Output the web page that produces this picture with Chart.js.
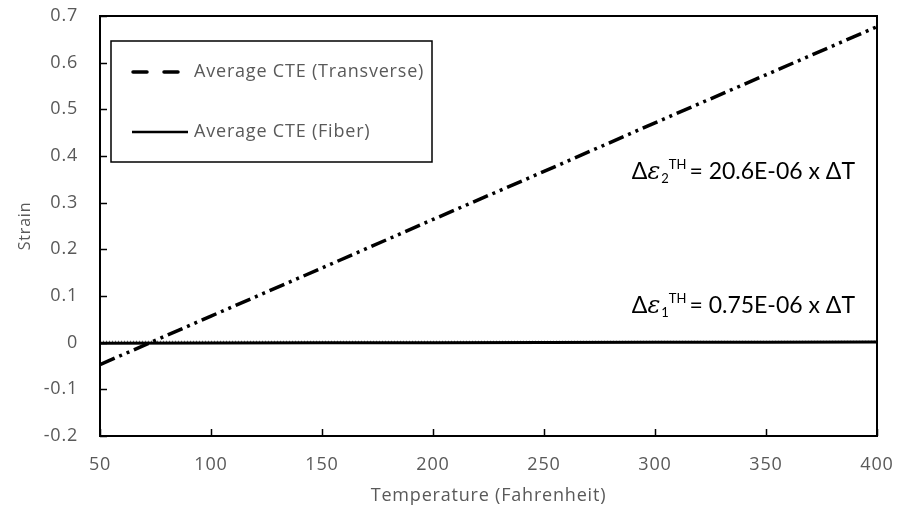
<!DOCTYPE html>
<html><head><meta charset="utf-8">
<script src="https://cdn.jsdelivr.net/npm/chart.js@4"></script>
<style>html,body{margin:0;padding:0;background:#fff}</style>
</head><body>
<canvas id="c" width="898" height="509" style="display:block;width:898px;height:509px"></canvas>
<script>
const temperatures = [50, 100, 150, 200, 250, 300, 350, 400];
const transverseStrain = [-0.047, 0.057, 0.160, 0.264, 0.367, 0.471, 0.574, 0.677];
const fiberStrain = [-0.001, -0.0007, -0.0003, 0.0, 0.0003, 0.0007, 0.001, 0.0014];
const zeroReference = [0.003, 0.003, 0.003, 0.003, 0.003, 0.003, 0.003, 0.003];
const seriesNames = ['Average CTE (Transverse)', 'Average CTE (Fiber)'];
const xTitle = 'Temperature (Fahrenheit)';
const yTitle = 'Strain';
const eqTransverse = {sub: '2', rest: '= 20.6E-06 x ΔT'};
const eqFiber = {sub: '1', rest: '= 0.75E-06 x ΔT'};

const grey = '#595959';
const FONT = '"Open Sans", Lato, sans-serif';
const EQFONT = 'Lato, "Open Sans", sans-serif';

const spacing = {
  id: 'spacing',
  beforeDraw(chart) { chart.ctx.letterSpacing = '0.8px'; },
  afterDraw(chart) { chart.ctx.letterSpacing = '0px'; }
};

const frameAndTicks = {
  id: 'frameAndTicks',
  afterDraw(chart) {
    const ctx = chart.ctx, a = chart.chartArea;
    const xs = chart.scales.x, ys = chart.scales.y;
    ctx.save();
    ctx.strokeStyle = '#000';
    ctx.lineWidth = 1.5;
    ys.ticks.forEach((t, i) => {
      const y = Math.round(ys.getPixelForTick(i)) + 0.5;
      ctx.beginPath(); ctx.moveTo(a.left, y); ctx.lineTo(a.left + 7, y); ctx.stroke();
    });
    xs.ticks.forEach((t, i) => {
      const x = Math.round(xs.getPixelForTick(i)) + 0.5;
      ctx.beginPath(); ctx.moveTo(x, a.bottom); ctx.lineTo(x, a.bottom - 7); ctx.stroke();
    });
    ctx.lineWidth = 2;
    ctx.strokeRect(a.left, a.top, a.right - a.left, a.bottom - a.top);
    ctx.restore();
  }
};

function drawRichRight(ctx, xRight, y, parts) {
  let total = 0;
  parts.forEach(p => { ctx.font = p.font; total += ctx.measureText(p.text).width + (p.gap || 0); });
  let x = xRight - total;
  parts.forEach(p => {
    ctx.font = p.font;
    ctx.fillText(p.text, x, y + (p.dy || 0));
    x += ctx.measureText(p.text).width + (p.gap || 0);
  });
}

const legendAndNotes = {
  id: 'legendAndNotes',
  afterDraw(chart) {
    const ctx = chart.ctx, a = chart.chartArea;
    ctx.save();
    const bx = a.left + 11, by = a.top + 25, bw = 321, bh = 121;
    ctx.fillStyle = '#fff';
    ctx.fillRect(bx, by, bw, bh);
    ctx.strokeStyle = '#000';
    ctx.lineWidth = 1.5;
    ctx.strokeRect(bx, by, bw, bh);
    const r1 = by + 31, r2 = by + 91;
    ctx.lineWidth = 3.5;
    ctx.lineCap = 'round';
    ctx.beginPath(); ctx.moveTo(bx + 22, r1); ctx.lineTo(bx + 36, r1); ctx.stroke();
    ctx.beginPath(); ctx.moveTo(bx + 53, r1); ctx.lineTo(bx + 67, r1); ctx.stroke();
    ctx.lineWidth = 2.5;
    ctx.lineCap = 'butt';
    ctx.beginPath(); ctx.moveTo(bx + 21, r2); ctx.lineTo(bx + 77, r2); ctx.stroke();
    ctx.fillStyle = grey;
    ctx.letterSpacing = '0.8px';
    ctx.font = '18px ' + FONT;
    ctx.textBaseline = 'middle';
    ctx.fillText(seriesNames[0], bx + 83, r1);
    ctx.fillText(seriesNames[1], bx + 83, r2);
    ctx.letterSpacing = '0px';
    ctx.fillStyle = '#000';
    ctx.textBaseline = 'alphabetic';
    const big = '23px ' + EQFONT, small = '13px ' + EQFONT, ital = 'italic 24px "DejaVu Serif", serif';
    const er = a.right - 22;
    [[eqTransverse, a.top + 163], [eqFiber, a.top + 297]].forEach(([eq, yb]) => {
      drawRichRight(ctx, er, yb, [
        {text: 'Δ', font: big}, {text: 'ε', font: ital, gap: 1}, {text: eq.sub, font: small, dy: 4},
        {text: 'TH', font: small, dy: -10, gap: 3}, {text: eq.rest, font: big}
      ]);
    });
    ctx.restore();
  }
};

const toXY = arr => temperatures.map((t, i) => ({x: t, y: arr[i]}));
const noOverhang = s => { s.paddingTop = 0; s.paddingBottom = 0; s.paddingLeft = 0; s.paddingRight = 0; };

new Chart(document.getElementById('c'), {
  type: 'line',
  data: {
    datasets: [
      {label: 'zero', data: toXY(zeroReference), borderColor: '#444', borderWidth: 1,
       borderDash: [1, 2], pointRadius: 0, order: 3},
      {label: seriesNames[1], data: toXY(fiberStrain), borderColor: '#000', borderWidth: 3,
       pointRadius: 0, order: 2},
      {label: seriesNames[0], data: toXY(transverseStrain), borderColor: '#000', borderWidth: 3.5,
       borderDash: [16, 5, 3, 5, 3, 5], pointRadius: 0, order: 1}
    ]
  },
  options: {
    responsive: false,
    animation: false,
    devicePixelRatio: 1,
    layout: {padding: {top: 16, right: 21, left: 16, bottom: 2}},
    plugins: {legend: {display: false}, tooltip: {enabled: false}},
    scales: {
      x: {
        type: 'linear', min: 50, max: 400,
        afterFit: s => { s.height = 71; noOverhang(s); },
        ticks: {stepSize: 50, color: grey, font: {family: FONT, size: 18}, padding: 18},
        grid: {display: false, drawTicks: false},
        border: {display: false},
        title: {display: true, text: xTitle, color: grey, font: {family: FONT, size: 18}, padding: {top: 4, bottom: 0}}
      },
      y: {
        min: -0.2, max: 0.7,
        afterFit: s => { s.width = 84; noOverhang(s); },
        ticks: {stepSize: 0.1, color: grey, font: {family: FONT, size: 18}, padding: 22,
          callback: v => { const n = Math.round(v * 10) / 10; return n === 0 ? '0' : n.toFixed(1); }},
        grid: {display: false, drawTicks: false},
        border: {display: false},
        title: {display: true, text: yTitle, color: grey, font: {family: FONT, size: 16}, padding: 0}
      }
    }
  },
  plugins: [spacing, frameAndTicks, legendAndNotes]
});
</script>
</body></html>
